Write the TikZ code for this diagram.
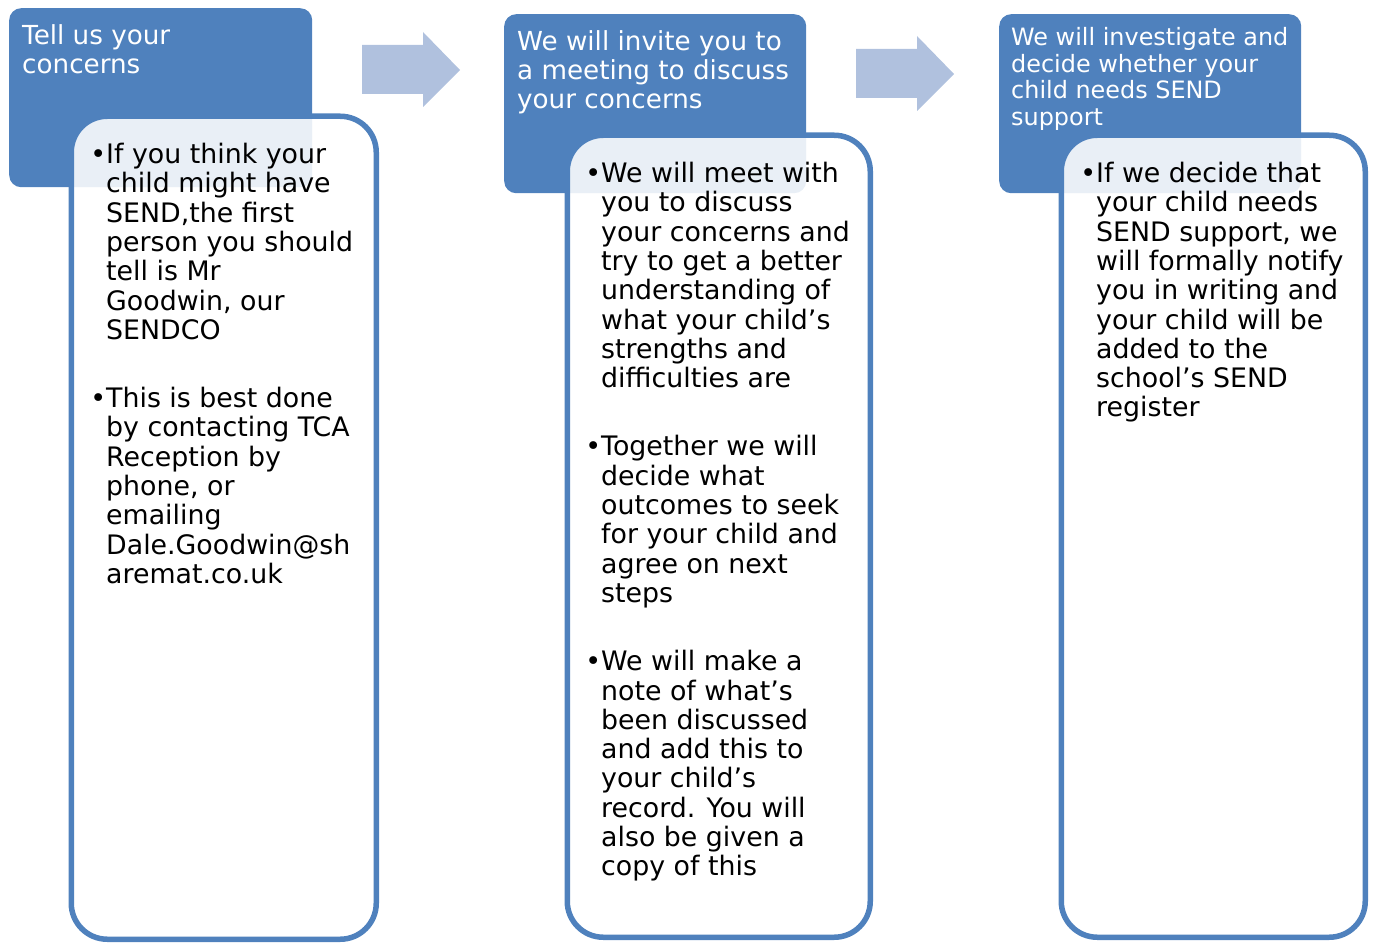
\documentclass[tikz,border=0pt]{standalone}
\usepackage{fontspec}
\setmainfont{DejaVu Sans}
\usetikzlibrary{positioning}
\definecolor{sendblue}{HTML}{4F81BD}
\definecolor{arrowblue}{HTML}{B0C1DE}
\tikzset{
	headbox/.style={fill=sendblue, rounded corners=12pt, minimum width=303pt, minimum height=179pt, anchor=north west, inner sep=0pt},
	bodybox/.style={draw=sendblue, line width=5.5pt, fill=white, fill opacity=0.88, rounded corners=36pt, minimum width=305pt, anchor=north west, inner sep=0pt},
	headtext/.style={anchor=north west, text=white, align=left, inner sep=0pt, font=\fontsize{26.2}{29}\selectfont},
	bodytext/.style={anchor=north west, align=left, inner sep=0pt, font=\fontsize{26.8}{29.3}\selectfont},
}
\begin{document}
\begin{tikzpicture}[x=1pt, y=-1pt, line join=round]
	\useasboundingbox (0,0) rectangle (1374,944);
	% headers
	\node[headbox] (headA) at (9,8) {};
	\node[headbox, minimum width=302pt] (headB) at (504,14) {};
	\node[headbox, minimum width=302pt] (headC) at (999,14) {};
	% block arrows
	\foreach \ax/\ay in {362/32, 856/36}
		\fill[arrowblue] (\ax,\ay+13) -- (\ax+61,\ay+13) -- (\ax+61,\ay) -- (\ax+98,\ay+38)
			-- (\ax+61,\ay+75) -- (\ax+61,\ay+62) -- (\ax,\ay+62) -- cycle;
	% white boxes
	\node[bodybox, minimum height=823pt] (bodyA) at (68.5,113.5) {};
	\node[bodybox, minimum width=303pt, minimum height=802pt] (bodyB) at (564.5,132.5) {};
	\node[bodybox, minimum width=304pt, minimum height=802pt] (bodyC) at (1058.5,132.5) {};
	% header texts
	\node[headtext] (titleA) at (22,24.5) {Tell us your\\concerns};
	\node[headtext] (titleB) at (517,30) {We will invite you to\\a meeting to discuss\\your concerns};
	\node[headtext, font=\fontsize{23.9}{26.5}\selectfont] (titleC) at (1011,27.5)
		{We will investigate and\\decide whether your\\child needs SEND\\support};
	% body texts
	\node[bodytext] (textA) at (106,143) {\llap{•}If you think your\\child might have\\SEND,the first\\person you should\\tell is Mr\\Goodwin, our\\SENDCO\\[39pt]
		\llap{•}This is best done\\by contacting TCA\\Reception by\\phone, or\\emailing\\Dale.Goodwin@sh\\aremat.co.uk};
	\node[bodytext] (textB) at (601,162) {\llap{•}We will meet with\\you to discuss\\your concerns and\\try to get a better\\understanding of\\what your child’s\\strengths and\\difficulties are\\[39pt]
		\llap{•}Together we will\\decide what\\outcomes to seek\\for your child and\\agree on next\\steps\\[39pt]
		\llap{•}We will make a\\note of what’s\\been discussed\\and add this to\\your child’s\\record. You will\\also be given a\\copy of this};
	\node[bodytext] (textC) at (1096,162) {\llap{•}If we decide that\\your child needs\\SEND support, we\\will formally notify\\you in writing and\\your child will be\\added to the\\school’s SEND\\register};
\end{tikzpicture}
\end{document}
